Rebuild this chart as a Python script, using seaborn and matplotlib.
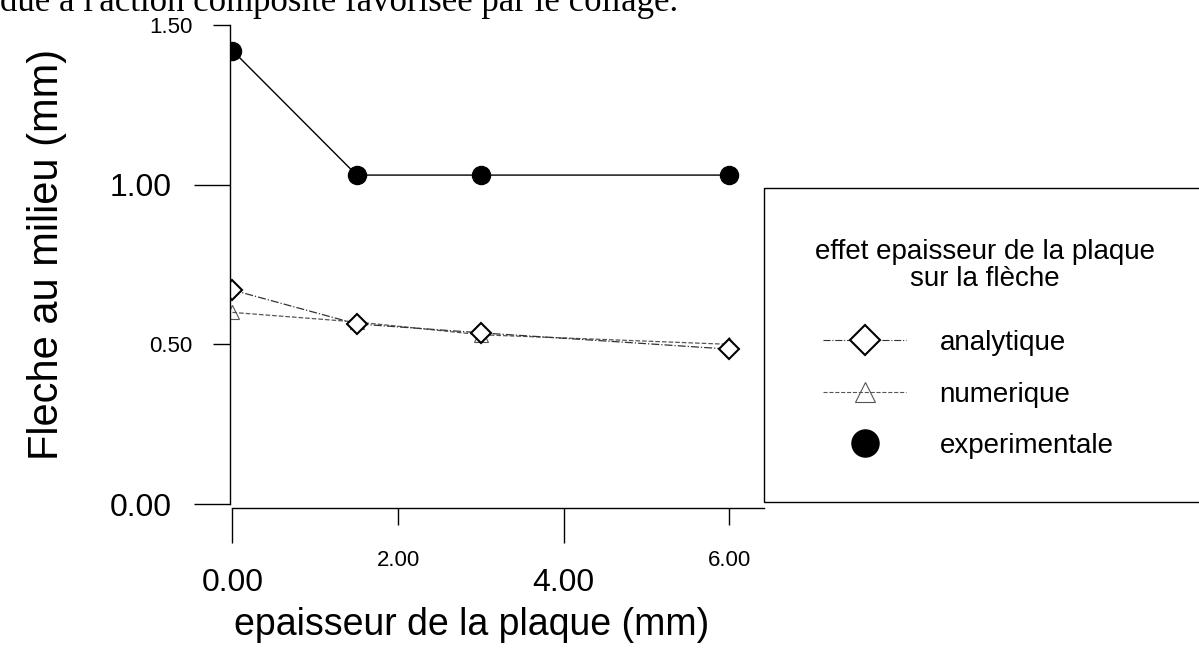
import matplotlib
matplotlib.use("Agg")
import matplotlib.pyplot as plt
from matplotlib.lines import Line2D
from matplotlib.patches import Rectangle
from matplotlib.ticker import FixedLocator, FormatStrFormatter
import seaborn as sns

sns.set_style("ticks")
plt.rcParams["font.family"] = ["Liberation Sans", "DejaVu Sans"]
plt.rcParams.update({"text.color": "black", "axes.labelcolor": "black",
                     "xtick.color": "black", "ytick.color": "black"})

# plate thickness (mm)
epaisseur = [0.0, 1.5, 3.0, 6.0]
# mid-span deflection (mm)
analytique = [0.67, 0.564, 0.536, 0.485]
numerique = [0.60, 0.57, 0.53, 0.50]
experimentale = [1.42, 1.03, 1.03, 1.03]

series_names = ["analytique", "numerique", "experimentale"]
y_major = [0.0, 1.0]
y_minor = [0.5, 1.5]
x_major = [0.0, 4.0]
x_minor = [2.0, 6.0]

W, H = 1199, 649
fig = plt.figure(figsize=(W / 100, H / 100), dpi=100)
ax = fig.add_axes([230 / W, (H - 504) / H, (764 - 230) / W, (504 - 25) / H])

sns.lineplot(x=epaisseur, y=experimentale, ax=ax, color="black", lw=1.0,
             marker="o", markersize=13, markerfacecolor="black",
             markeredgecolor="black", markeredgewidth=1, label="experimentale")
sns.lineplot(x=epaisseur, y=numerique, ax=ax, color="#555555", lw=0.9, ls="--",
             marker="^", markersize=10, markerfacecolor="none",
             markeredgecolor="#555555", markeredgewidth=0.8, label="numerique")
sns.lineplot(x=epaisseur, y=analytique, ax=ax, color="#333333", lw=0.9, ls="-.",
             marker="D", markersize=10, markerfacecolor="white",
             markeredgecolor="black", markeredgewidth=1.5, label="analytique")

ax.set_xlim(-0.03, 6.42)
ax.set_ylim(0, 1.5)
ax.spines["top"].set_visible(False)
ax.spines["right"].set_visible(False)
ax.spines["bottom"].set_position(("outward", 3))
ax.spines["bottom"].set_bounds(0, 6.42)
for s in ("left", "bottom"):
    ax.spines[s].set_linewidth(1.0)
    ax.spines[s].set_color("black")

ax.yaxis.set_major_locator(FixedLocator(y_major))
ax.yaxis.set_minor_locator(FixedLocator(y_minor))
ax.xaxis.set_major_locator(FixedLocator(x_major))
ax.xaxis.set_minor_locator(FixedLocator(x_minor))
for axis in (ax.xaxis, ax.yaxis):
    axis.set_major_formatter(FormatStrFormatter("%.2f"))
    axis.set_minor_formatter(FormatStrFormatter("%.2f"))

ax.tick_params(axis="y", which="major", length=26, width=1, pad=16, labelsize=23, color="black")
ax.tick_params(axis="y", which="minor", length=12, width=1, pad=15, labelsize=16, color="black")
ax.tick_params(axis="x", which="major", length=25, width=1, pad=18, labelsize=23, color="black")
ax.tick_params(axis="x", which="minor", length=12, width=1, pad=18, labelsize=16, color="black")

ax.set_ylabel("Fleche au milieu (mm)", fontsize=30)
ax.yaxis.set_label_coords((67 - 230) / 534, 0.52)
ax.set_xlabel("epaisseur de la plaque (mm)", fontsize=27)
ax.xaxis.set_label_coords((472 - 230) / 534, -0.215)

# legend box running off the right edge
fig.add_artist(Rectangle((764 / W, (H - 502) / H), 0.5, (502 - 188) / H,
                         transform=fig.transFigure, fill=False, lw=1, ec="black"))
fig.text(985 / W, 1 - 265 / H, "effet epaisseur de la plaque\nsur la flèche",
         ha="center", va="center", fontsize=20, linespacing=1.05)

handles = [
    Line2D([], [], color="#333333", lw=0.8, ls="-.", marker="D", markersize=10,
           markerfacecolor="white", markeredgecolor="black", markeredgewidth=1.5),
    Line2D([], [], color="#555555", lw=0.8, ls="--", marker="^", markersize=10,
           markerfacecolor="none", markeredgecolor="#555555", markeredgewidth=0.8),
    Line2D([], [], color="black", lw=0, marker="o", markersize=13,
           markerfacecolor="black", markeredgecolor="black"),
]
ax.legend(handles, series_names, loc="upper left",
          bbox_to_anchor=(823 / W, 1 - 330 / H), bbox_transform=fig.transFigure,
          frameon=False, fontsize=20, markerscale=1.5, borderpad=0,
          borderaxespad=0, handlelength=3.0, handletextpad=1.2, labelspacing=0.92)

# cropped line of body text above the figure
fig.text(0.0, 1 - 11 / H, "due à l'action composite favorisée par le collage.",
         family=["Liberation Serif", "DejaVu Serif"], fontsize=25, va="baseline")

fig.savefig("out.png", dpi=100)
